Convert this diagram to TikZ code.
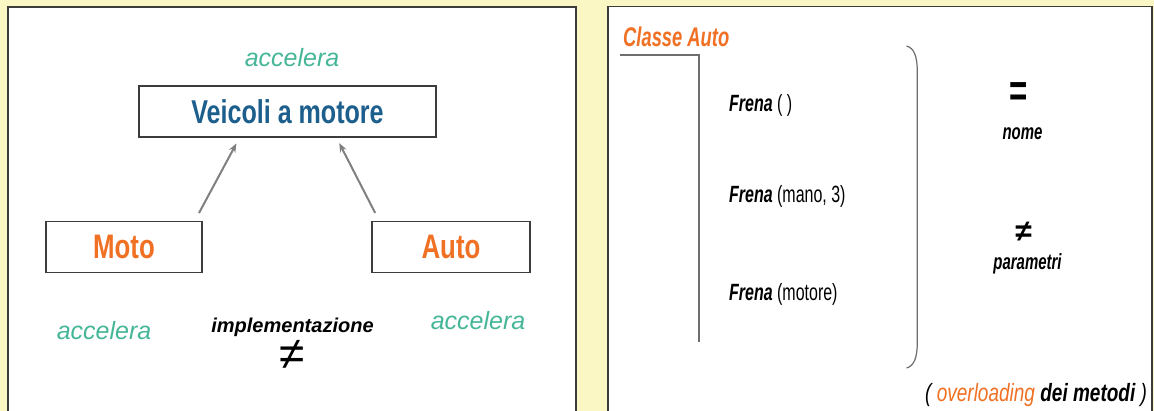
\documentclass[tikz,border=0pt]{standalone}
\usepackage{fontspec}
\setmainfont{Liberation Sans}
\newfontfamily\narrowsans{Liberation Sans}[FakeStretch=0.76]
\newfontfamily\slimsans{Liberation Sans}[FakeStretch=0.68]
\usetikzlibrary{arrows.meta}

\definecolor{pagebg}{RGB}{250,247,196}
\definecolor{framegray}{RGB}{60,60,60}
\definecolor{linegray}{RGB}{110,110,110}
\definecolor{arrowgray}{RGB}{128,128,128}
\definecolor{accteal}{RGB}{70,182,152}
\definecolor{veicblue}{RGB}{28,94,140}
\definecolor{autoorange}{RGB}{240,112,36}

\newcommand{\pxsize}[1]{\fontsize{#1}{#1}\selectfont}

\tikzset{
  panel/.style={draw=framegray, line width=1.5pt, fill=white},
  classbox/.style={draw=framegray, line width=1.4pt, fill=white, inner sep=0pt,
    minimum height=51pt, font=\narrowsans\bfseries\pxsize{34}},
  accel/.style={anchor=base, inner sep=0pt, text=accteal, font=\itshape\pxsize{25}},
  method/.style={anchor=base west, inner sep=0pt, font=\slimsans\pxsize{23.5}},
  remark/.style={anchor=base, inner sep=0pt, font=\slimsans\bfseries\itshape\pxsize{22}},
  inherit/.style={->, arrowgray, line width=2pt}
}

\begin{document}
\begin{tikzpicture}[x=1pt, y=-1pt, >={Stealth[length=9pt,width=7pt]}]
  \useasboundingbox (0,0) rectangle (1154,411);
  \clip (0,0) rectangle (1154,411);
  \fill[pagebg] (0,0) rectangle (1154,411);

  % Panels
  \draw[panel] (8,7) rectangle (576,430);
  \draw[panel] (608,6.5) rectangle (1152,430);

  %  Define nodes (left panel)
  \node[classbox, minimum width=297pt, text=veicblue, font=\narrowsans\bfseries\pxsize{33}] (veicoli) at (287.5,111.5) {Veicoli a motore};
  \node[classbox, minimum width=156pt, text=autoorange] (moto) at (124,247.2) {Moto};
  \node[classbox, minimum width=158pt, text=autoorange] (auto) at (451,247.2) {Auto};

  \node[accel] (accveicoli) at (292,67) {accelera};
  \node[accel] (accmoto) at (104,340) {accelera};
  \node[accel] (accauto) at (478,330) {accelera};
  \node[anchor=base, inner sep=0pt, font=\bfseries\itshape\pxsize{20}] (impl) at (292.5,333) {implementazione};
  \node[inner sep=0pt, font=\pxsize{46}] (impldiff) at (292.5,355) {≠};

  % Connect the nodes
  \draw[inherit, shorten <=9pt, shorten >=6.5pt] ([xshift=-8pt]moto.north east) -- ([xshift=-48pt]veicoli.south);
  \draw[inherit, shorten <=9pt, shorten >=6pt] ([xshift=8pt]auto.north west) -- ([xshift=49pt]veicoli.south);

  % Right panel: class Auto with three Frena methods
  \node[anchor=base west, inner sep=0pt, text=autoorange, font=\slimsans\bfseries\itshape\pxsize{27}] (classe) at (623,46.7) {Classe Auto};
  \draw[linegray, line width=1.2pt] (620,55) -| (699,342);

  \node[method] (frena1) at (729,111.7) {{\bfseries\itshape Frena} ( )};
  \node[method] (frena2) at (729,203) {{\bfseries\itshape Frena} (mano, 3)};
  \node[method] (frena3) at (729,301) {{\bfseries\itshape Frena} (motore)};

  % Brace
  \draw[linegray, line width=1.2pt] (906.5,46) .. controls (914,48) and (917.3,56) .. (917.3,72)
    -- (917.3,342) .. controls (917.3,358) and (914,366) .. (906.5,368);

  \node[inner sep=0pt, font=\slimsans\bfseries\pxsize{46}] (equal) at (1018.5,94.5) {=};
  \node[remark] (nome) at (1022.5,140) {nome};
  \node[inner sep=0pt, font=\bfseries\pxsize{30}] (diff) at (1023.5,231.5) {≠};
  \node[remark] (parametri) at (1027.5,270) {parametri};

  \node[anchor=base west, inner sep=0pt, font=\narrowsans\itshape\pxsize{25}] (overloading) at (925,402)
    {( {\color{autoorange}overloading} {\bfseries dei metodi} )};

\end{tikzpicture}
\end{document}
